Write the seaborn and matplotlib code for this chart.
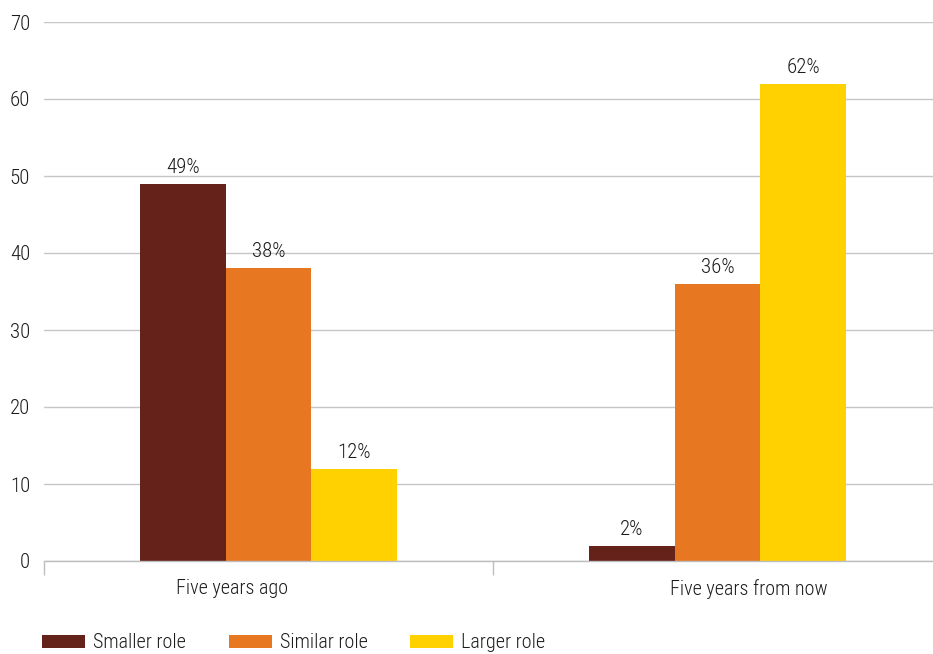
import matplotlib
matplotlib.use("Agg")
import matplotlib.pyplot as plt
from matplotlib.patches import Patch
from matplotlib.ticker import FixedLocator
import seaborn as sns
import pandas as pd

periods = ["Five years ago", "Five years from now"]
roles = ["Smaller role", "Similar role", "Larger role"]
smaller = [49, 2]
similar = [38, 36]
larger = [12, 62]
colors = ["#65221b", "#e87722", "#ffd100"]

rows = []
for role, vals in zip(roles, [smaller, similar, larger]):
    for p, v in zip(periods, vals):
        rows.append({"period": p, "role": role, "value": v})
df = pd.DataFrame(rows)

sns.set_theme(style="white")
plt.rcParams["font.family"] = ["Roboto Condensed", "Liberation Sans Narrow",
                               "Roboto", "DejaVu Sans"]
plt.rcParams["font.weight"] = "light"

TEXT = "#1c1c1c"
fig = plt.figure(figsize=(9.33, 6.54), dpi=100)
W, H = 933, 654
ax = fig.add_axes([44 / W, 1 - 561 / H, 898 / W, (561 - 22) / H])

sns.barplot(data=df, x="period", y="value", hue="role", order=periods,
            hue_order=roles, palette=colors, width=0.572, saturation=1,
            linewidth=0, ax=ax, legend=False)

for container in ax.containers:
    ax.bar_label(container, labels=[f"{v:.0f}%" for v in container.datavalues],
                 padding=5, fontsize=15, color=TEXT)

ax.set_xlim(-0.5, 1.5)
ax.set_ylim(0, 70)
ax.set_yticks(range(0, 71, 10))
# category labels sit slightly off the group centres
ax.set_xticks([-0.081, 1.070], periods)
ax.yaxis.grid(True, color="#c6c6c6", linewidth=1)
ax.set_axisbelow(True)
ax.set_xlabel("")
ax.set_ylabel("")
for s in ["top", "right", "left"]:
    ax.spines[s].set_visible(False)
ax.spines["bottom"].set_color("#bdbdbd")
ax.spines["bottom"].set_linewidth(1)

ax.tick_params(axis="y", left=False, length=0, labelsize=15,
               labelcolor=TEXT, pad=10)
ax.tick_params(axis="x", which="major", bottom=False, length=0,
               labelsize=14.5, labelcolor=TEXT, pad=13)
ax.xaxis.set_minor_locator(FixedLocator([-0.5, 0.5, 1.5]))
ax.tick_params(axis="x", which="minor", bottom=True, direction="out",
               length=10, color="#bdbdbd", width=1)

handles = [Patch(facecolor=c, edgecolor="none") for c in colors]
fig.legend(handles, roles, loc="center left",
           bbox_to_anchor=(32 / W, 1 - 643 / H),
           ncol=3, frameon=False, fontsize=14.5, borderpad=0,
           handlelength=2.15, handleheight=0.65, handletextpad=0.4,
           columnspacing=2.1, labelcolor=TEXT)

fig.savefig("out.png", dpi=100)
